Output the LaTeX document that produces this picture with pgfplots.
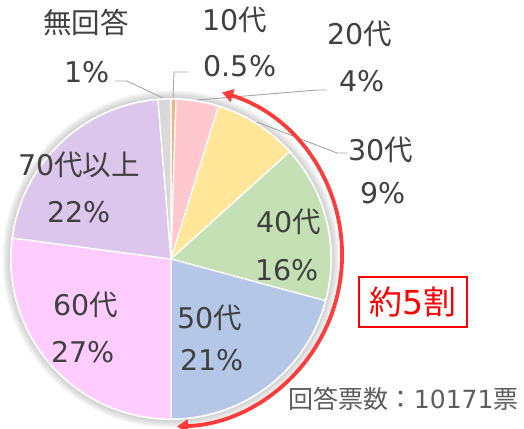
\documentclass[border=0pt]{standalone}
\usepackage{pgfplots}
\pgfplotsset{compat=1.18}
\usepackage{pgfplotstable}
\usepackage{fontspec}
\setmainfont{DejaVu Sans}
\newfontfamily\cjk{Noto Sans CJK JP}
\usetikzlibrary{arrows.meta}
\definecolor{txt}{HTML}{404040}
\definecolor{slice0}{HTML}{F4B183}
\definecolor{slice1}{HTML}{FFC7CE}
\definecolor{slice2}{HTML}{FFE699}
\definecolor{slice3}{HTML}{C5E0B4}
\definecolor{slice4}{HTML}{B4C7E7}
\definecolor{slice5}{HTML}{FFCCFF}
\definecolor{slice6}{HTML}{DCC6EC}
\definecolor{slice7}{HTML}{D9D9D9}
\definecolor{lead}{HTML}{A6A6A6}
\definecolor{arrowred}{HTML}{FF3B3B}
\newcommand\lab{\fontsize{28.5bp}{30bp}\selectfont}
\newcommand\foot{\fontsize{25bp}{27bp}\selectfont}
\newcommand\bigfont{\fontsize{33bp}{35bp}\selectfont}
\newcommand\dai{{\cjk 代}}

% share of votes (%) by age group, clockwise from the top
\pgfplotstableread{
group value
10 0.5
20 4.3
30 8.5
40 15.9
50 20.8
60 27.1
70 21.6
0 1.3
}\piedata

\def\cx{171}
\def\cy{259}
\def\rr{160}

\begin{document}
\begin{tikzpicture}
\begin{axis}[x=1bp, y=1bp, y dir=reverse, scale only axis,
  xmin=0, xmax=524, ymin=0, ymax=428, hide axis, clip=false]
% soft shadow ring
\pgfplotsinvokeforeach{1,...,9}{
  \fill[black, opacity=0.025] (axis cs:171,259) circle[radius=160bp+#1bp];
}
\fill[white] (axis cs:171,259) circle[radius=161bp];
% slices
\def\cum{0}
\pgfplotsforeachungrouped \i in {0,...,7}{%
  \pgfplotstablegetelem{\i}{value}\of\piedata
  \pgfmathsetmacro\angA{90-3.6*\cum}%
  \pgfmathsetmacro\cumnew{\cum+\pgfplotsretval}%
  \let\cum\cumnew
  \pgfmathsetmacro\angB{90-3.6*\cum}%
  \edef\temp{\noexpand\addplot[fill=slice\i, draw=white, line width=1.3bp, line join=round,
     domain=\angB:\angA, samples=80] ({\cx+\rr*cos(x)},{\cy-\rr*sin(x)}) -- (axis cs:\cx,\cy) -- cycle;}%
  \temp
}
% leader lines
\draw[lead, line width=0.9bp] (axis cs:115,81) -- (axis cs:127,81) -- (axis cs:163,98);
\draw[lead, line width=0.9bp] (axis cs:188,72) -- (axis cs:174,72) -- (axis cs:173,98);
\draw[lead, line width=0.9bp] (axis cs:197,100) -- (axis cs:317,90) -- (axis cs:327,90);
\draw[lead, line width=0.9bp] (axis cs:257,122) -- (axis cs:337,153) -- (axis cs:347,153);
% red arrow
\draw[arrowred, line width=3.8bp, {Triangle[width=13bp,length=11bp]}-{Triangle[width=13bp,length=11bp]}]
  (axis cs:222.1,92.4) arc[start angle=72.6, end angle=-88, radius=171bp];
% labels
\node[font=\lab, text=txt] at (axis cs:86,22) {\cjk 無回答};
\node[font=\lab, text=txt] at (axis cs:87,72) {1\%};
\node[font=\lab, text=txt] at (axis cs:235,20) {10\dai};
\node[font=\lab, text=txt] at (axis cs:240,66) {0.5\%};
\node[font=\lab, text=txt] at (axis cs:360,34) {20\dai};
\node[font=\lab, text=txt] at (axis cs:362,81) {4\%};
\node[font=\lab, text=txt] at (axis cs:381,150) {30\dai};
\node[font=\lab, text=txt] at (axis cs:383,193) {9\%};
\node[font=\lab, text=txt] at (axis cs:289,222) {40\dai};
\node[font=\lab, text=txt] at (axis cs:287,270) {16\%};
\node[font=\lab, text=txt] at (axis cs:210,318) {50\dai};
\node[font=\lab, text=txt] at (axis cs:212,360) {21\%};
\node[font=\lab, text=txt] at (axis cs:86,305) {60\dai};
\node[font=\lab, text=txt] at (axis cs:83,352) {27\%};
\node[font=\lab, text=txt] at (axis cs:79,165) {70{\cjk 代以上}};
\node[font=\lab, text=txt] at (axis cs:79,212) {22\%};
\node[font=\bigfont, text=red, draw=red, line width=2bp, minimum width=108bp, minimum height=50bp, inner sep=2bp]
  at (axis cs:413,302) {{\cjk 約}5{\cjk 割}};
\node[font=\foot, text=txt!85!white, anchor=east] at (axis cs:522,399) {{\cjk 回答票数：}10171{\cjk 票}};
\end{axis}
\pgfresetboundingbox
\path (current axis.south west) rectangle (current axis.north east);
\end{tikzpicture}
\end{document}
